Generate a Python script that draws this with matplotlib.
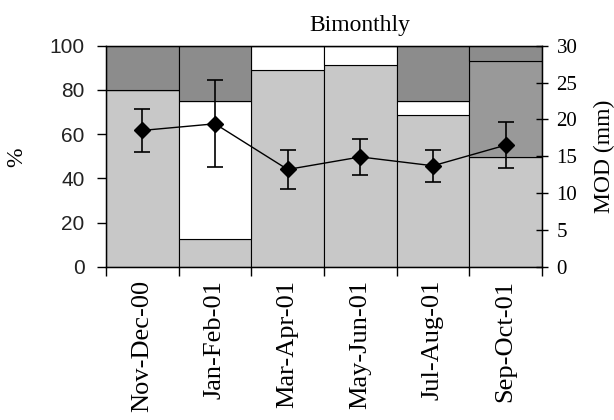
import matplotlib
matplotlib.use("Agg")
import matplotlib.pyplot as plt
import numpy as np

categories = ["Nov-Dec-00", "Jan-Feb-01", "Mar-Apr-01", "May-Jun-01", "Jul-Aug-01", "Sep-Oct-01"]
light_pct = [80.0, 12.5, 89.0, 91.2, 68.6, 49.5]
white_pct = [0.0, 62.5, 11.0, 8.8, 6.4, 0.0]
mid_pct = [0.0, 0.0, 0.0, 0.0, 0.0, 43.5]
dark_pct = [20.0, 25.0, 0.0, 0.0, 25.0, 7.0]
mod_mm = [18.5, 19.4, 13.2, 14.9, 13.7, 16.5]
mod_err = [2.9, 5.9, 2.6, 2.5, 2.2, 3.1]

serif = "Liberation Serif"
sans = "Liberation Sans"

W, H = 614, 420
fig = plt.figure(figsize=(W / 100, H / 100), dpi=100)
ax = fig.add_axes([106 / W, 1 - 266.7 / H, (542 - 106) / W, (266.7 - 45.7) / H])
x = np.arange(len(categories))

bottom = np.zeros(len(categories))
for vals, col in [(light_pct, "#c8c8c8"), (white_pct, "#ffffff"),
                  (mid_pct, "#999999"), (dark_pct, "#8c8c8c")]:
    v = np.array(vals)
    ax.bar(x, v, width=1.0, bottom=bottom, color=col, edgecolor="black",
           linewidth=0.8, zorder=1)
    bottom += v

ax.set_xlim(-0.5, len(categories) - 0.5)
ax.set_ylim(0, 100)
ax.set_yticks([0, 20, 40, 60, 80, 100])
ax.set_yticklabels(["0", "20", "40", "60", "80", "100"], fontfamily=sans, fontsize=15, color="#222222")
ax.tick_params(axis="y", direction="out", length=6.5, width=1, pad=9)
ax.set_xticks(x)
ax.set_xticklabels(categories, rotation=90, fontfamily=serif, fontsize=19)
ax.tick_params(axis="x", which="major", length=0, pad=9.5)
ax.set_xticks(np.arange(-0.5, len(categories)), minor=True)
ax.tick_params(axis="x", which="minor", direction="out", length=6.5, width=1)
for s in ax.spines.values():
    s.set_linewidth(1)

fig.text(17 / W, 1 - 157 / H, "%", fontfamily=serif, fontsize=17, rotation=90,
         ha="center", va="center")
fig.text(360 / W, 1 - 31 / H, "Bimonthly", fontfamily=serif, fontsize=17,
         ha="center", va="baseline")

ax2 = ax.twinx()
ax2.set_ylim(0, 30)
ax2.set_yticks([0, 5, 10, 15, 20, 25, 30])
ax2.set_yticklabels(["0", "5", "10", "15", "20", "25", "30"], fontfamily=serif, fontsize=15)
ax2.tick_params(axis="y", direction="inout", length=9, width=1, pad=6)
ax2.errorbar(x, mod_mm, yerr=mod_err, color="black", marker="D", markersize=8,
             linewidth=1, elinewidth=1.2, capsize=5.5, capthick=1.2, zorder=3)
ax2.set_xlim(-0.5, len(categories) - 0.5)
fig.text(604 / W, 1 - 156 / H, "MOD (mm)", fontfamily=serif, fontsize=17, rotation=90,
         ha="center", va="center")

fig.savefig("out.png", dpi=100)
